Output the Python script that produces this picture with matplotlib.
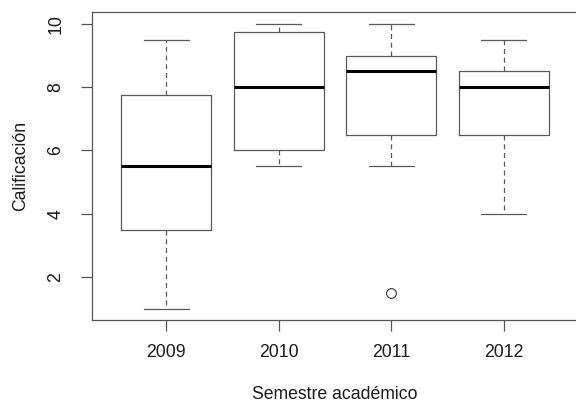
import matplotlib

matplotlib.use("Agg")
import matplotlib.pyplot as plt

# Datos (cuartiles y bigotes por semestre)
semestres = ["2009", "2010", "2011", "2012"]
bigote_inf = [1.0, 5.5, 5.5, 4.0]
cuartil_1 = [3.5, 6.0, 6.5, 6.5]
mediana = [5.5, 8.0, 8.5, 8.0]
cuartil_3 = [7.75, 9.75, 9.0, 8.5]
bigote_sup = [9.5, 10.0, 10.0, 9.5]
atipicos = [[], [], [1.5], []]

plt.rcParams["font.family"] = ["Liberation Sans", "DejaVu Sans"]
plt.rcParams["font.size"] = 12.7

fig = plt.figure(figsize=(5.76, 4.05), dpi=100)
ax = fig.add_axes([92 / 576, 85 / 405, 486 / 576, 307.5 / 405])

stats = []
for i, nombre in enumerate(semestres):
    stats.append(
        {
            "label": nombre,
            "whislo": bigote_inf[i],
            "q1": cuartil_1[i],
            "med": mediana[i],
            "q3": cuartil_3[i],
            "whishi": bigote_sup[i],
            "fliers": atipicos[i],
        }
    )

gris = "#5a5a5a"
ax.bxp(
    stats,
    positions=range(1, len(semestres) + 1),
    widths=0.8,
    showfliers=True,
    boxprops=dict(color=gris, linewidth=0.9),
    whiskerprops=dict(color=gris, linewidth=0.9, linestyle=(0, (4, 3))),
    capprops=dict(color=gris, linewidth=0.9),
    medianprops=dict(color="black", linewidth=2.2),
    flierprops=dict(marker="o", markerfacecolor="none", markeredgecolor="#333333",
                    markersize=7, markeredgewidth=0.8),
    capwidths=0.4,
)

ax.set_xlim(0.34, 4.66)
ax.set_ylim(0.64, 10.36)
ax.set_yticks([2, 4, 6, 8, 10])
ax.set_xticks(range(1, len(semestres) + 1))
ax.set_xticklabels(semestres)
for lbl in ax.get_yticklabels():
    lbl.set_rotation(90)
    lbl.set_va("center")

for lado in ax.spines.values():
    lado.set_color("#555555")
    lado.set_linewidth(0.9)
ax.tick_params(axis="both", length=8, width=0.9, color="#555555", labelcolor="#1a1a1a")
ax.tick_params(axis="x", pad=9)
ax.tick_params(axis="y", pad=12)

ax.set_xlabel("Semestre académico", labelpad=18, color="#1a1a1a")
ax.set_ylabel("Calificación", labelpad=13, color="#1a1a1a")

fig.savefig("out.png", dpi=100, facecolor="white")
